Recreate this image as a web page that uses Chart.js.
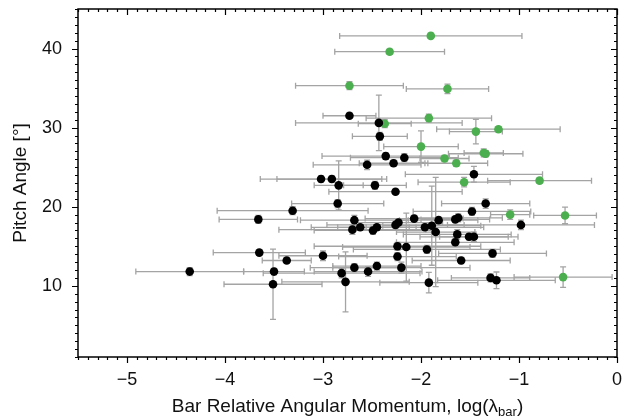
<!DOCTYPE html>
<html>
<head>
<meta charset="utf-8">
<script src="https://cdn.jsdelivr.net/npm/chart.js@4"></script>
<style>
  html, body { margin: 0; padding: 0; background: #fff; }
  #wrap { width: 624px; height: 418px; }
</style>
</head>
<body>
<div id="wrap"><canvas id="chart" width="624" height="418"></canvas></div>
<script>
// black points
const blackX = [-3.02, -2.91, -2.84, -2.47, -2.26, -2.85, -3.31, -3.66, -3.65, -3.37, -4.36, -3.50, -3.51, -3.00, -2.55, -2.28, -2.68, -2.70, -2.62, -2.49, -2.45, -2.26, -2.23, -2.07, -1.96, -1.89, -1.85, -1.82, -1.65, -1.62, -1.63, -1.65, -1.51, -1.46, -2.24, -2.15, -2.24, -1.94, -1.59, -2.81, -2.68, -2.54, -2.45, -2.20, -2.77, -1.92, -1.27, -1.29, -1.23, -1.46, -1.34, -1.48, -0.98, -2.73, -2.43, -2.42, -2.36, -2.17];
const blackY = [23.5, 23.5, 22.7, 22.7, 21.9, 20.4, 19.5, 18.4, 14.2, 13.2, 11.8, 11.8, 10.2, 13.8, 25.3, 25.5, 18.3, 17.1, 17.4, 17.0, 17.4, 17.7, 18.0, 18.5, 17.4, 17.6, 16.8, 18.3, 18.4, 18.6, 16.5, 15.5, 16.2, 16.2, 15.0, 14.9, 13.7, 14.6, 13.2, 11.6, 12.3, 11.8, 12.5, 12.3, 10.5, 10.4, 14.1, 11.0, 10.7, 24.1, 20.4, 19.4, 17.7, 31.5, 30.6, 28.9, 26.4, 26.2];
const blackXErr = [0.62, 0.56, 0.25, 0.32, 0.68, 0.47, 0.77, 0.40, 0.47, 0.25, 0.55, 0.31, 0.50, 0.45, 0.55, 0.35, 0.55, 0.75, 0.50, 0.60, 0.40, 0.70, 0.45, 0.50, 0.60, 0.50, 0.40, 0.40, 0.35, 0.45, 0.55, 0.60, 0.50, 0.35, 0.85, 0.65, 0.60, 0.75, 0.50, 0.80, 0.45, 0.55, 0.45, 0.70, 0.65, 0.50, 0.55, 0.40, 0.60, 0.70, 0.45, 0.60, 0.75, 0.27, 0.85, 0.28, 0.65, 0.55];
const blackYErr = [0.4, 0.4, 3.1, 0.5, 0.3, 0.5, 0.5, 0.5, 0.3, 0.3, 0.5, 0.4, 4.45, 0.6, 0.6, 0.4, 0.6, 0.6, 0.3, 0.5, 0.3, 0.4, 0.3, 0.4, 0.4, 5.0, 6.9, 0.4, 0.4, 0.5, 0.6, 0.5, 0.4, 0.6, 0.5, 4.3, 0.5, 0.5, 0.4, 0.6, 0.5, 0.6, 0.5, 0.7, 3.8, 1.3, 0.5, 0.5, 1.05, 1.0, 0.6, 0.5, 0.6, 0.3, 3.5, 0.5, 0.4, 0.5];

// green points
const greenX = [-1.90, -2.32, -2.73, -1.73, -1.92, -2.37, -1.21, -1.44, -2.00, -1.76, -1.64, -1.36, -1.34, -1.56, -0.79, -1.09, -0.53, -0.55];
const greenY = [41.6, 39.6, 35.3, 34.9, 31.2, 30.5, 29.8, 29.5, 27.6, 26.1, 25.5, 26.8, 26.7, 23.1, 23.3, 19.0, 18.9, 11.1];
const greenXErr = [0.93, 0.56, 0.55, 0.42, 0.64, 0.27, 0.63, 0.27, 0.38, 0.25, 0.32, 0.20, 0.38, 0.47, 0.53, 0.20, 0.32, 0.50];
const greenYErr = [0.3, 0.3, 0.5, 0.6, 0.5, 0.5, 0.3, 1.55, 2.0, 0.4, 0.4, 0.5, 0.4, 0.6, 0.3, 0.6, 1.05, 1.3];

const xTicks = [-5, -4, -3, -2, -1, 0];
const yTicks = [10, 20, 30, 40];

const toPoints = (xs, ys, xe, ye) => xs.map((x, i) => ({ x: x, y: ys[i], xe: xe[i], ye: ye[i] }));

const FONT = "'Liberation Sans', Arial, Helvetica, sans-serif";

// gray error bars with caps, drawn under the markers
const errorBars = {
  id: 'errorBars',
  beforeDatasetsDraw(chart) {
    const { ctx, scales: { x, y } } = chart;
    ctx.save();
    ctx.strokeStyle = '#a4a4a4';
    ctx.lineWidth = 1.3;
    const cap = 3;
    chart.data.datasets.forEach(ds => {
      ds.data.forEach(p => {
        const px = x.getPixelForValue(p.x), py = y.getPixelForValue(p.y);
        const x0 = x.getPixelForValue(p.x - p.xe), x1 = x.getPixelForValue(p.x + p.xe);
        const y0 = y.getPixelForValue(p.y - p.ye), y1 = y.getPixelForValue(p.y + p.ye);
        ctx.beginPath();
        ctx.moveTo(x0, py); ctx.lineTo(x1, py);
        ctx.moveTo(x0, py - cap); ctx.lineTo(x0, py + cap);
        ctx.moveTo(x1, py - cap); ctx.lineTo(x1, py + cap);
        ctx.moveTo(px, y0); ctx.lineTo(px, y1);
        ctx.moveTo(px - cap, y0); ctx.lineTo(px + cap, y0);
        ctx.moveTo(px - cap, y1); ctx.lineTo(px + cap, y1);
        ctx.stroke();
      });
    });
    ctx.restore();
  }
};

// frame, minor/major ticks and the x title with subscript
const frame = {
  id: 'frame',
  afterDraw(chart) {
    const { ctx, chartArea: a, scales: { x, y } } = chart;
    ctx.save();
    ctx.strokeStyle = '#000';
    ctx.lineWidth = 1.5;
    ctx.strokeRect(a.left, a.top, a.right - a.left, a.bottom - a.top);
    ctx.lineWidth = 1.2;
    ctx.beginPath();
    for (let i = -55; i <= 0; i++) {
      const v = i / 10;
      const px = Math.round(x.getPixelForValue(v)) + 0.5;
      const len = i % 10 === 0 ? 6 : 3;
      ctx.moveTo(px, a.bottom); ctx.lineTo(px, a.bottom + len);
      ctx.moveTo(px, a.top); ctx.lineTo(px, a.top + len);
    }
    for (let v = 1; v <= 45; v++) {
      const py = Math.round(y.getPixelForValue(v)) + 0.5;
      const len = v % 10 === 0 ? 6 : 3;
      ctx.moveTo(a.left, py); ctx.lineTo(a.left - len, py);
      ctx.moveTo(a.right, py); ctx.lineTo(a.right - len, py);
    }
    ctx.stroke();

    ctx.fillStyle = '#111';
    ctx.textBaseline = 'alphabetic';
    const main = 'Bar Relative Angular Momentum, log(\u03bb';
    const sub = 'bar';
    const end = ')';
    ctx.font = '19px ' + FONT;
    const w1 = ctx.measureText(main).width, w3 = ctx.measureText(end).width;
    ctx.font = '13px ' + FONT;
    const w2 = ctx.measureText(sub).width;
    const cx = (a.left + a.right) / 2;
    const sx = cx - (w1 + w2 + w3) / 2;
    const by = 412;
    ctx.textAlign = 'left';
    ctx.font = '19px ' + FONT;
    ctx.fillText(main, sx, by);
    ctx.font = '13px ' + FONT;
    ctx.fillText(sub, sx + w1, by + 4);
    ctx.font = '19px ' + FONT;
    ctx.fillText(end, sx + w1 + w2, by);
    ctx.restore();
  }
};

new Chart(document.getElementById('chart').getContext('2d'), {
  type: 'scatter',
  data: {
    datasets: [
      {
        label: 'black',
        data: toPoints(blackX, blackY, blackXErr, blackYErr),
        backgroundColor: '#000',
        borderColor: '#000',
        pointRadius: 4.3,
        borderWidth: 0
      },
      {
        label: 'green',
        data: toPoints(greenX, greenY, greenXErr, greenYErr),
        backgroundColor: '#4caf4f',
        borderColor: '#4caf4f',
        pointRadius: 4.3,
        borderWidth: 0
      }
    ]
  },
  options: {
    responsive: false,
    animation: false,
    layout: { padding: { top: 9, right: 7, left: 0, bottom: 0 } },
    plugins: { legend: { display: false }, tooltip: { enabled: false } },
    scales: {
      x: {
        type: 'linear',
        min: -5.5,
        max: 0,
        grid: { display: false, drawTicks: false },
        border: { display: false },
        afterBuildTicks: s => { s.ticks = xTicks.map(v => ({ value: v })); },
        afterFit: s => { s.height = 61; s.paddingLeft = 0; s.paddingRight = 0; },
        ticks: {
          color: '#111',
          padding: 12,
          maxRotation: 0,
          font: { family: FONT, size: 18 },
          callback: v => (v < 0 ? '\u2212' + Math.abs(v) : String(v))
        }
      },
      y: {
        type: 'linear',
        min: 1,
        max: 45,
        grid: { display: false, drawTicks: false },
        border: { display: false },
        afterBuildTicks: s => { s.ticks = yTicks.map(v => ({ value: v })); },
        afterFit: s => { s.width = 78; s.paddingTop = 0; s.paddingBottom = 0; },
        ticks: {
          color: '#111',
          padding: 16,
          font: { family: FONT, size: 18 }
        },
        title: {
          display: true,
          text: 'Pitch Angle [\u00b0]',
          color: '#111',
          font: { family: FONT, size: 19 },
          padding: { top: 9, bottom: 4 }
        }
      }
    }
  },
  plugins: [errorBars, frame]
});
</script>
</body>
</html>
